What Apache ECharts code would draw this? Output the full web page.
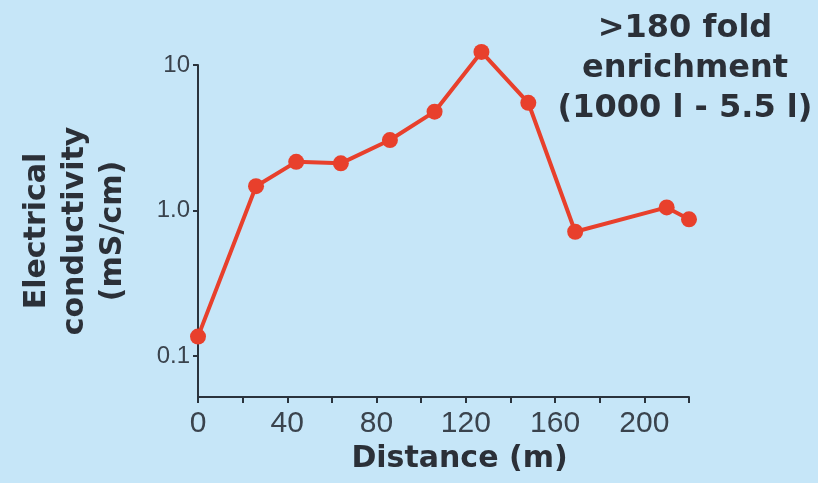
<!DOCTYPE html>
<html>
<head>
<meta charset="utf-8">
<script src="https://cdn.jsdelivr.net/npm/echarts@6/dist/echarts.min.js"></script>
<style>
html,body{margin:0;padding:0;background:#c6e6f8;}
#chart{width:818px;height:483px;}
</style>
</head>
<body>
<div id="chart"></div>
<script>
// Data
const distance = [0, 26, 44, 64, 86, 106, 127, 148, 169, 210, 220];
const conductivity = [0.136, 1.47, 2.16, 2.11, 3.05, 4.78, 12.3, 5.5, 0.715, 1.05, 0.87];
const xTickLabels = [0, 40, 80, 120, 160, 200];
const yTickValues = [0.1, 1, 10];
const yTickLabels = ['0.1', '1.0', '10'];
const titleLines = ['>180 fold', 'enrichment', '(1000 l - 5.5 l)'];
const xAxisTitle = 'Distance (m)';
const yAxisTitleLines = ['Electrical', 'conductivity', '(mS/cm)'];

const ink = '#2b3038';
const axisInk = '#2a333d';
const red = '#e8402c';
const boldFont = 'DejaVu Sans';
const tickFont = 'Liberation Sans';

const chart = echarts.init(document.getElementById('chart'));
chart.setOption({
  backgroundColor: '#c6e6f8',
  animation: false,
  title: {
    text: titleLines.join('\n'),
    left: 680,
    top: 4,
    textAlign: 'center',
    textStyle: {
      fontFamily: boldFont, fontWeight: 'bold', fontSize: 32,
      lineHeight: 40, color: ink, align: 'center'
    }
  },
  grid: { left: 198, right: 129, top: 65, bottom: 86, containLabel: false },
  xAxis: {
    type: 'value', min: 0, max: 220, interval: 20,
    name: xAxisTitle, nameLocation: 'middle', nameGap: 39,
    nameTextStyle: { fontFamily: boldFont, fontWeight: 'bold', fontSize: 30, color: ink, padding: [0, 0, 0, 32] },
    axisLine: { show: true, onZero: false, lineStyle: { color: axisInk, width: 2 } },
    axisTick: { show: true, inside: false, length: 6, lineStyle: { color: axisInk, width: 2 } },
    splitLine: { show: false },
    axisLabel: {
      margin: 12, fontFamily: tickFont, fontSize: 30, color: '#3a434d',
      formatter: v => (xTickLabels.indexOf(v) >= 0 ? String(v) : '')
    }
  },
  yAxis: {
    type: 'log', logBase: 10, min: 0.0523, max: 10,
    name: yAxisTitleLines.join('\n'), nameLocation: 'middle', nameRotate: 90, nameGap: 66,
    nameTextStyle: { fontFamily: boldFont, fontWeight: 'bold', fontSize: 30, lineHeight: 38, color: ink },
    axisLine: { show: true, lineStyle: { color: axisInk, width: 2 } },
    axisTick: { show: true, length: 5, customValues: yTickValues, lineStyle: { color: axisInk, width: 2 } },
    splitLine: { show: false },
    axisLabel: {
      margin: 8, fontFamily: tickFont, fontSize: 24, color: '#3a434d',
      customValues: yTickValues,
      formatter: v => {
        const i = yTickValues.findIndex(t => Math.abs(t - v) / t < 1e-6);
        return i >= 0 ? yTickLabels[i] : '';
      }
    }
  },
  series: [{
    type: 'line',
    data: distance.map((d, i) => [d, conductivity[i]]),
    clip: false,
    symbol: 'circle', symbolSize: 16,
    lineStyle: { color: red, width: 4 },
    itemStyle: { color: red }
  }]
});
</script>
</body>
</html>
